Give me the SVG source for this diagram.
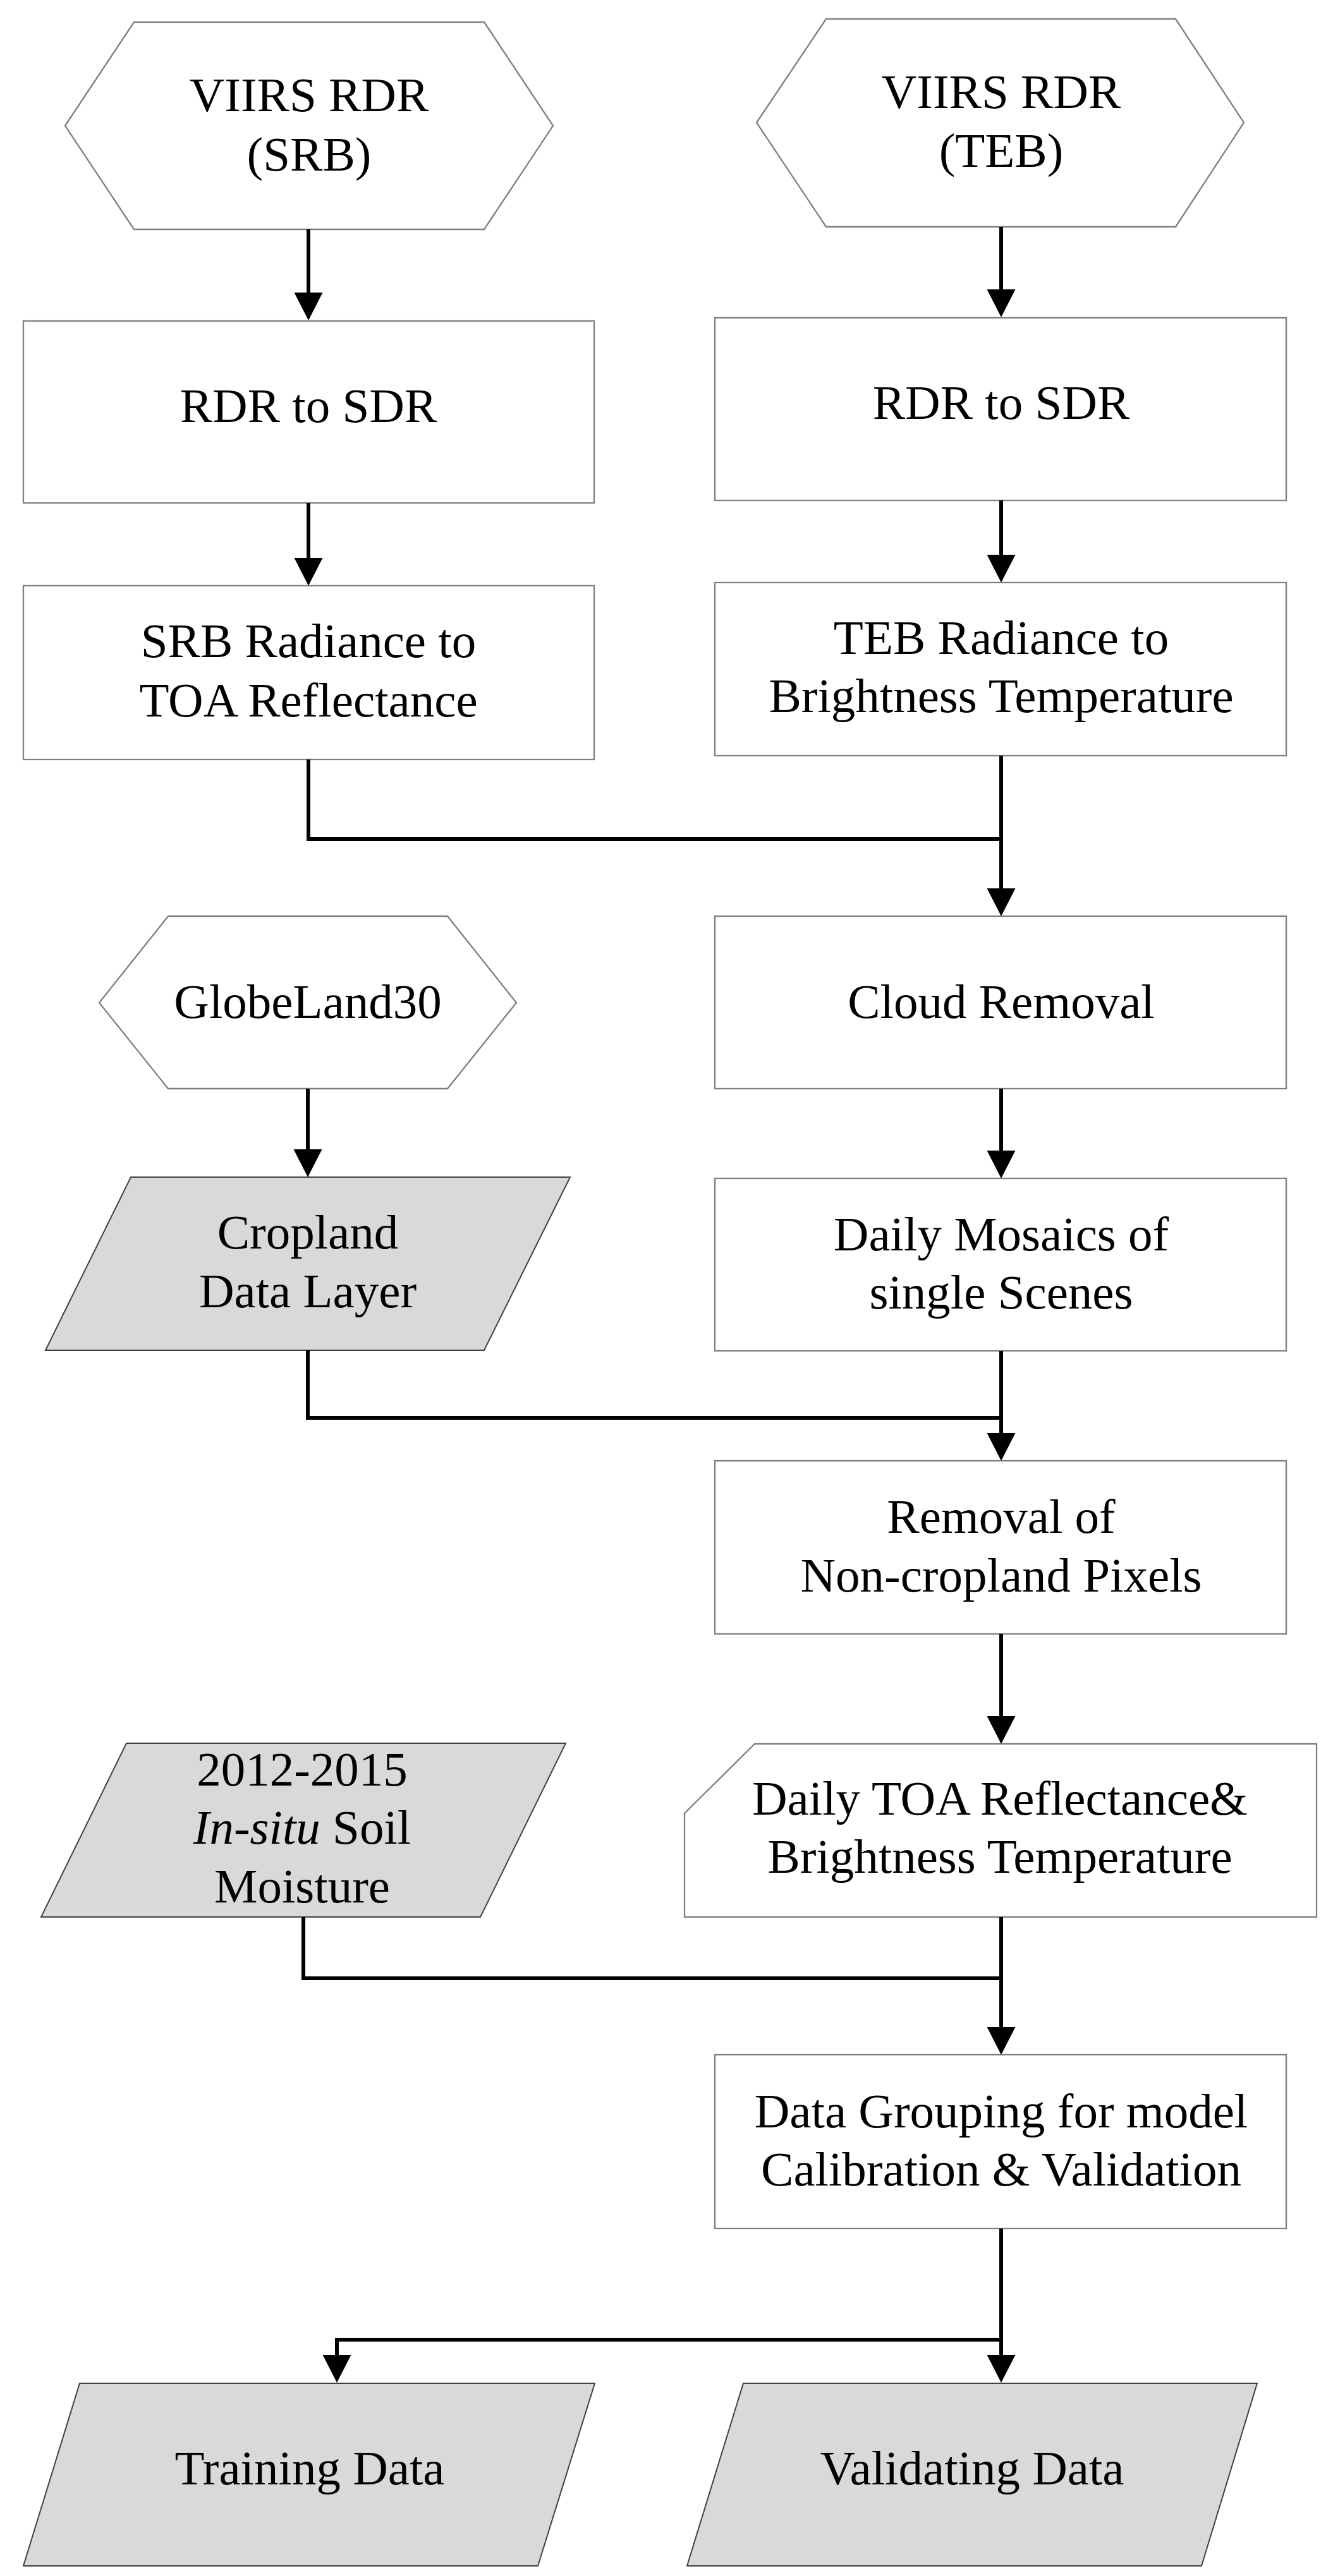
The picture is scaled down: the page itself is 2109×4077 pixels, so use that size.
<svg xmlns="http://www.w3.org/2000/svg" width="2109" height="4077" viewBox="0 0 2109 4077">
<style>
  .shape { fill: #ffffff; stroke: #7f7f7f; stroke-width: 2.3; }
  .data { fill: #d9d9d9; stroke: #404040; stroke-width: 2; }
  .lbl { font-family: "Liberation Serif", "Times New Roman", serif; font-size: 77px; fill: #000000; text-anchor: middle; }
  .conn { fill: none; stroke: #000000; stroke-width: 6; }
</style>
<defs>
  <marker id="arr" markerUnits="userSpaceOnUse" markerWidth="46" markerHeight="46" refX="4" refY="22.5" orient="auto" overflow="visible">
    <path d="M0,0 L44,22.5 L0,45 Z" fill="#000000"/>
  </marker>
</defs>
<rect width="2109" height="4077" fill="#ffffff"/>

<g id="viirs_srb">
  <polygon class="shape" points="103,199 212,35 766,35 875,199 766,363 212,363"/>
  <text class="lbl" x="489" y="176">VIIRS RDR</text>
  <text class="lbl" x="489" y="270">(SRB)</text>
</g>
<g id="viirs_teb">
  <polygon class="shape" points="1197,194 1307,30 1860,30 1968,194 1860,359 1307,359"/>
  <text class="lbl" x="1584" y="171">VIIRS RDR</text>
  <text class="lbl" x="1584" y="264">(TEB)</text>
</g>
<g id="rdr_sdr_left">
  <rect class="shape" x="37" y="508" width="903" height="288"/>
  <text class="lbl" x="488" y="668">RDR to SDR</text>
</g>
<g id="rdr_sdr_right">
  <rect class="shape" x="1131" y="503" width="904" height="289"/>
  <text class="lbl" x="1584" y="663">RDR to SDR</text>
</g>
<g id="srb_radiance">
  <rect class="shape" x="37" y="927" width="903" height="275"/>
  <text class="lbl" x="488" y="1040">SRB  Radiance to</text>
  <text class="lbl" x="488" y="1134">TOA Reflectance</text>
</g>
<g id="teb_radiance">
  <rect class="shape" x="1131" y="922" width="904" height="274"/>
  <text class="lbl" x="1584" y="1035">TEB  Radiance to</text>
  <text class="lbl" x="1584" y="1127">Brightness Temperature</text>
</g>
<g id="globeland30">
  <polygon class="shape" points="157,1587 266,1450 708,1450 817,1587 708,1723 266,1723"/>
  <text class="lbl" x="487" y="1611">GlobeLand30</text>
</g>
<g id="cloud_removal">
  <rect class="shape" x="1131" y="1450" width="904" height="273"/>
  <text class="lbl" x="1584" y="1611">Cloud Removal</text>
</g>
<g id="cropland">
  <polygon class="data" points="207,1863 902,1863 766,2137 72,2137"/>
  <text class="lbl" x="487" y="1976">Cropland</text>
  <text class="lbl" x="487" y="2069">Data Layer</text>
</g>
<g id="daily_mosaics">
  <rect class="shape" x="1131" y="1865" width="904" height="273"/>
  <text class="lbl" x="1584" y="1979">Daily Mosaics of</text>
  <text class="lbl" x="1584" y="2071">single Scenes</text>
</g>
<g id="removal_noncropland">
  <rect class="shape" x="1131" y="2312" width="904" height="274"/>
  <text class="lbl" x="1584" y="2426">Removal of</text>
  <text class="lbl" x="1584" y="2519">Non-cropland Pixels</text>
</g>
<g id="insitu_soil">
  <polygon class="data" points="200,2759 895,2759 760,3034 65,3034"/>
  <text class="lbl" x="478" y="2826">2012-2015</text>
  <text class="lbl" x="478" y="2918"><tspan font-style="italic">In-situ</tspan> Soil</text>
  <text class="lbl" x="478" y="3011">Moisture</text>
</g>
<g id="daily_toa">
  <polygon class="shape" points="1194,2760 2083,2760 2083,3034 1083,3034 1083,2870"/>
  <text class="lbl" x="1582" y="2872">Daily TOA Reflectance&amp;</text>
  <text class="lbl" x="1582" y="2964">Brightness Temperature</text>
</g>
<g id="data_grouping">
  <rect class="shape" x="1131" y="3252" width="904" height="275"/>
  <text class="lbl" x="1584" y="3367">Data Grouping for model</text>
  <text class="lbl" x="1584" y="3459">Calibration &amp; Validation</text>
</g>
<g id="training_data">
  <polygon class="data" points="126,3772 941,3772 851,4061 37,4061"/>
  <text class="lbl" x="490" y="3932">Training Data</text>
</g>
<g id="validating_data">
  <polygon class="data" points="1176,3772 1989,3772 1901,4061 1087,4061"/>
  <text class="lbl" x="1538" y="3932">Validating Data</text>
</g>

<g id="connectors">
  <path class="conn" marker-end="url(#arr)" d="M488,363 L488,467"/>
  <path class="conn" marker-end="url(#arr)" d="M1584,359 L1584,462"/>
  <path class="conn" marker-end="url(#arr)" d="M488,796 L488,887"/>
  <path class="conn" marker-end="url(#arr)" d="M1584,792 L1584,882"/>
  <path class="conn" d="M488,1202 L488,1328 L1584,1328"/>
  <path class="conn" marker-end="url(#arr)" d="M1584,1196 L1584,1410"/>
  <path class="conn" marker-end="url(#arr)" d="M487,1723 L487,1823"/>
  <path class="conn" marker-end="url(#arr)" d="M1584,1723 L1584,1825"/>
  <path class="conn" d="M487,2137 L487,2244 L1584,2244"/>
  <path class="conn" marker-end="url(#arr)" d="M1584,2138 L1584,2272"/>
  <path class="conn" marker-end="url(#arr)" d="M1584,2586 L1584,2720"/>
  <path class="conn" d="M480,3034 L480,3131 L1584,3131"/>
  <path class="conn" marker-end="url(#arr)" d="M1584,3034 L1584,3212"/>
  <path class="conn" marker-end="url(#arr)" d="M1584,3527 L1584,3731"/>
  <path class="conn" marker-end="url(#arr)" d="M1584,3703 L533,3703 L533,3731"/>
</g>
</svg>
